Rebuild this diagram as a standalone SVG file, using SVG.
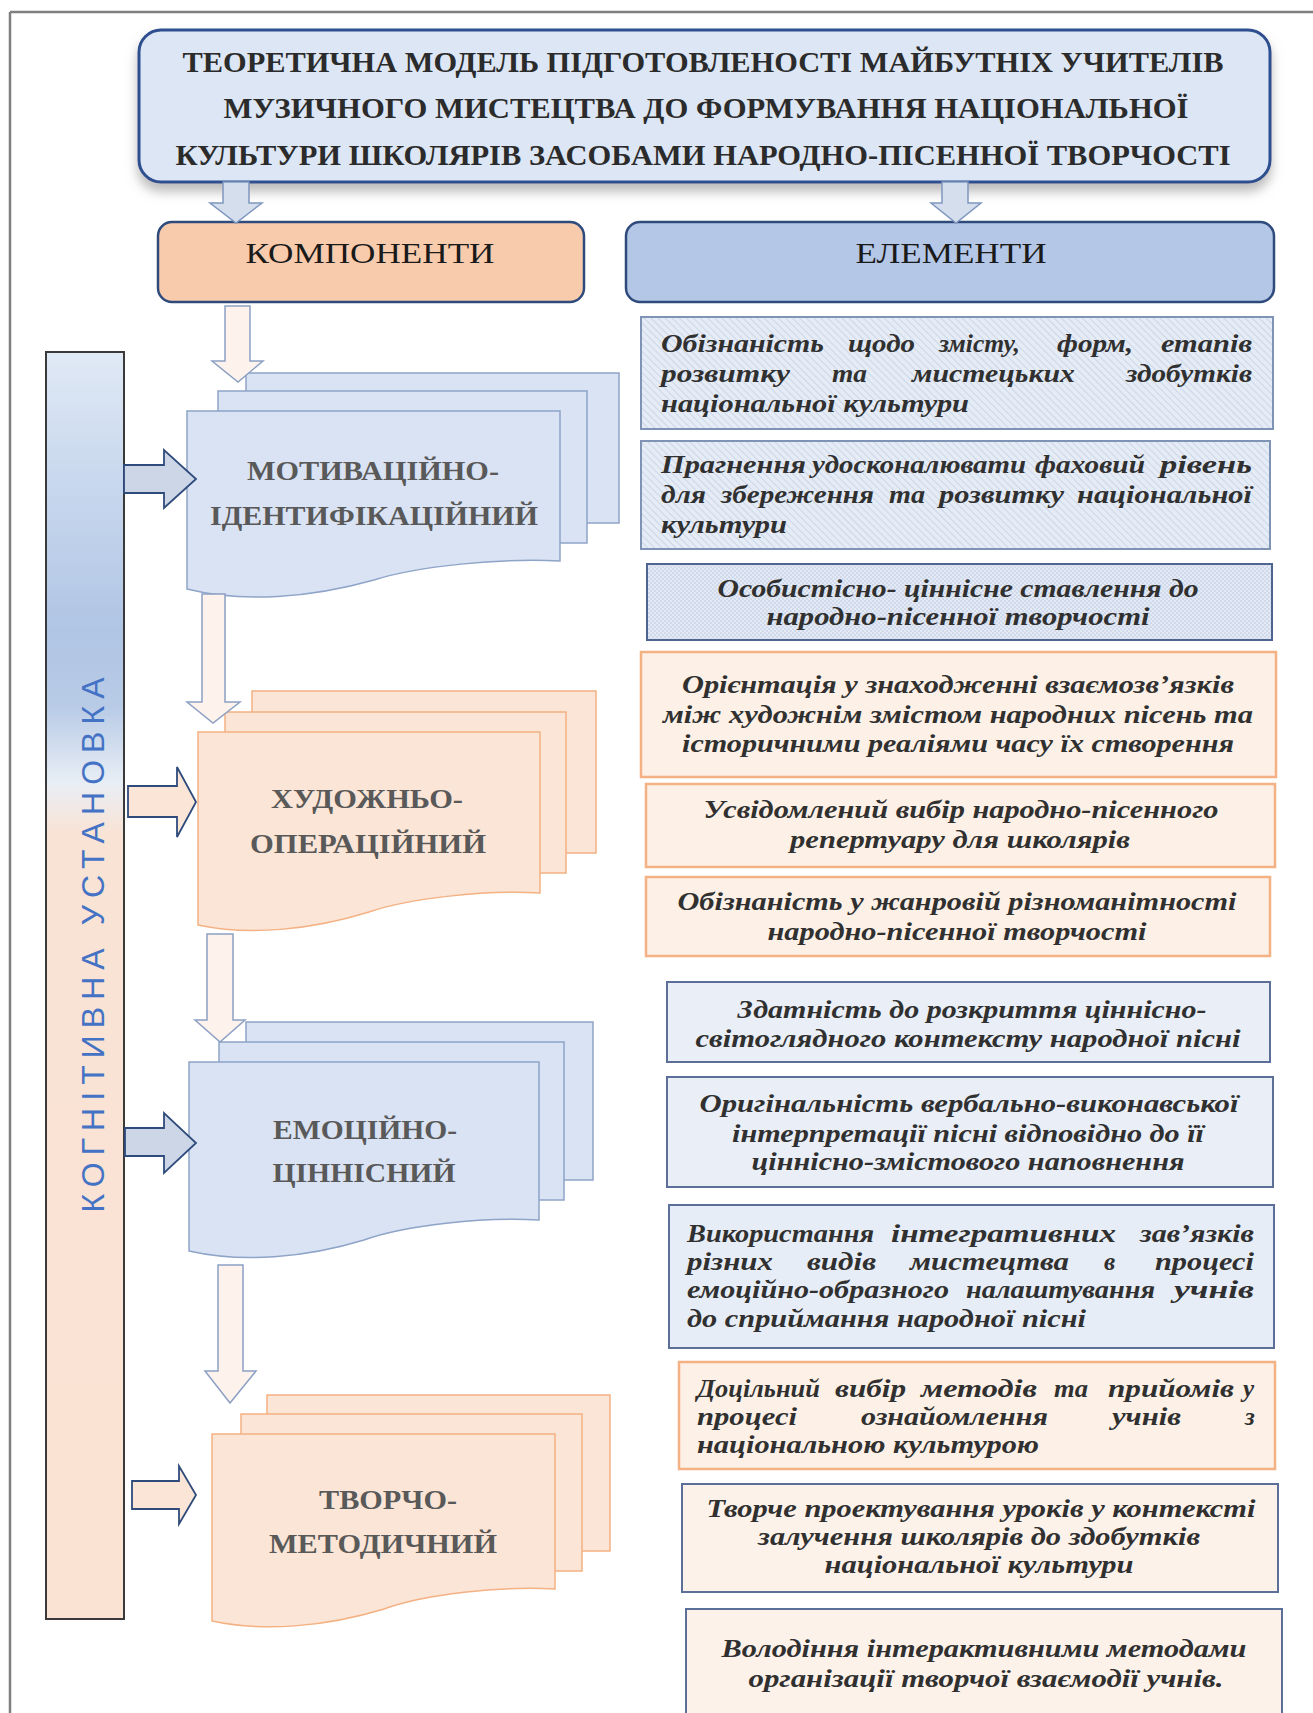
<svg xmlns="http://www.w3.org/2000/svg" width="1313" height="1713" viewBox="0 0 1313 1713">
<style>
.title{font-family:"Liberation Serif","Times New Roman",serif;font-weight:bold;font-size:30px;fill:#2b2b2b}
.head{font-family:"Liberation Serif","Times New Roman",serif;font-size:30px;fill:#1a1a1a}
.comp{font-family:"Liberation Serif","Times New Roman",serif;font-weight:bold;font-size:28px;fill:#595959}
.el{font-family:"Liberation Serif","Times New Roman",serif;font-weight:bold;font-style:italic;font-size:25px;fill:#303030}
.bar{font-family:"Liberation Sans",Arial,sans-serif;font-size:32px;fill:#4472c4}
.sheetB{fill:#dae3f3;stroke:#8ea4c8;stroke-width:1.5}
.sheetP{fill:#fbe5d6;stroke:#f4b183;stroke-width:1.5}
.boxB{stroke:#7f93b5;stroke-width:2}
.boxP{fill:#fdf0e6;stroke:#f4b183;stroke-width:2.5}
.boxPB{fill:#fdf2ea;stroke:#5b6f99;stroke-width:2}
.arrV{fill:#fdf3ec;stroke:#8ca0c4;stroke-width:1.5}
.arrT{fill:#d4deed;stroke:#7f96bf;stroke-width:1.5}
.arrHB{fill:#ccd6e6;stroke:#2f4b7c;stroke-width:1.8}
.arrHP{fill:#fbe5d6;stroke:#2f4b7c;stroke-width:1.8}
</style>
<defs>
<pattern id="hatch" patternUnits="userSpaceOnUse" width="5" height="5" patternTransform="rotate(-45)">
<rect width="5" height="5" fill="#e6ecf6"/>
<line x1="0" y1="0" x2="0" y2="5" stroke="#c3cfe2" stroke-width="1.5"/>
</pattern>
<pattern id="dots" patternUnits="userSpaceOnUse" width="4" height="4">
<rect width="4" height="4" fill="#e3eaf5"/>
<circle cx="1" cy="1" r="0.8" fill="#b8c6dc"/>
<circle cx="3" cy="3" r="0.8" fill="#b8c6dc"/>
</pattern>
<linearGradient id="barGrad" x1="0" y1="0" x2="0" y2="1">
<stop offset="0" stop-color="#e0e9f5"/>
<stop offset="0.1" stop-color="#c9d8ee"/>
<stop offset="0.22" stop-color="#b0c5e4"/>
<stop offset="0.28" stop-color="#b8cbe6"/>
<stop offset="0.34" stop-color="#e8eef5"/>
<stop offset="0.38" stop-color="#f9e3d5"/>
<stop offset="1" stop-color="#fbe3d3"/>
</linearGradient>
<filter id="shadow" x="-5%" y="-10%" width="110%" height="130%">
<feDropShadow dx="0" dy="8" stdDeviation="6" flood-color="#7f7f7f" flood-opacity="0.55"/>
</filter>
</defs>

<rect width="1313" height="1713" fill="#ffffff"/>
<g id="frame" fill="none" stroke="#7f7f7f" stroke-width="2.5">
<line x1="10" y1="12" x2="1313" y2="12"/>
<line x1="10" y1="12" x2="10" y2="1713"/>
</g>

<g id="title">
<rect x="139" y="30" width="1131" height="152" rx="22" fill="#dce6f4" stroke="#2f4f8f" stroke-width="3" filter="url(#shadow)"/>
<text class="title" x="703" y="72" text-anchor="middle" textLength="1041" lengthAdjust="spacingAndGlyphs">ТЕОРЕТИЧНА МОДЕЛЬ ПІДГОТОВЛЕНОСТІ МАЙБУТНІХ УЧИТЕЛІВ</text>
<text class="title" x="706" y="118" text-anchor="middle" textLength="965" lengthAdjust="spacingAndGlyphs">МУЗИЧНОГО МИСТЕЦТВА ДО ФОРМУВАННЯ  НАЦІОНАЛЬНОЇ</text>
<text class="title" x="703" y="165" text-anchor="middle" textLength="1055" lengthAdjust="spacingAndGlyphs">КУЛЬТУРИ ШКОЛЯРІВ ЗАСОБАМИ НАРОДНО-ПІСЕННОЇ ТВОРЧОСТІ</text>
</g>

<g id="components-header">
<rect x="158" y="222" width="426" height="80" rx="14" fill="#f8cbad" stroke="#2f4b7c" stroke-width="2.5"/>
<text class="head" x="370" y="263" text-anchor="middle" textLength="249" lengthAdjust="spacingAndGlyphs">КОМПОНЕНТИ</text>
</g>
<g id="elements-header">
<rect x="626" y="222" width="648" height="80" rx="14" fill="#b4c7e7" stroke="#2f4b7c" stroke-width="2.5"/>
<text class="head" x="951" y="263" text-anchor="middle" textLength="191" lengthAdjust="spacingAndGlyphs">ЕЛЕМЕНТИ</text>
</g>

<g id="cognitive-bar">
<rect x="46" y="352" width="78" height="1267" fill="url(#barGrad)" stroke="#3a3a3a" stroke-width="2"/>
<text class="bar" transform="translate(104,945) rotate(-90)" x="0" y="0" text-anchor="middle" textLength="535" lengthAdjust="spacing">КОГНІТИВНА УСТАНОВКА</text>
</g>

<g id="comp-motivational">
<rect class="sheetB" x="246" y="373" width="373" height="150"/>
<rect class="sheetB" x="218" y="391" width="369" height="152"/>
<path class="sheetB" d="M187,411 H560 V561 C500,558 418,566 374,580 C310,598 243,603 187,589 Z"/>
<text class="comp" x="373" y="480" text-anchor="middle" textLength="252" lengthAdjust="spacingAndGlyphs">МОТИВАЦІЙНО-</text>
<text class="comp" x="374" y="525" text-anchor="middle" textLength="328" lengthAdjust="spacingAndGlyphs">ІДЕНТИФІКАЦІЙНИЙ</text>
</g>

<g id="comp-artistic">
<rect class="sheetP" x="252" y="691" width="344" height="162"/>
<rect class="sheetP" x="225" y="712" width="341" height="161"/>
<path class="sheetP" d="M198,732 H540 V893 C485,890 410,898 369,912 C311,930 249,936 198,925 Z"/>
<text class="comp" x="367" y="808" text-anchor="middle" textLength="192" lengthAdjust="spacingAndGlyphs">ХУДОЖНЬО-</text>
<text class="comp" x="368" y="853" text-anchor="middle" textLength="236" lengthAdjust="spacingAndGlyphs">ОПЕРАЦІЙНИЙ</text>
</g>

<g id="comp-emotional">
<rect class="sheetB" x="246" y="1022" width="347" height="158"/>
<rect class="sheetB" x="219" y="1042" width="345" height="158"/>
<path class="sheetB" d="M189,1062 H539 V1220 C483,1217 406,1225 364,1240 C305,1258 242,1263 189,1251 Z"/>
<text class="comp" x="365" y="1139" text-anchor="middle" textLength="184" lengthAdjust="spacingAndGlyphs">ЕМОЦІЙНО-</text>
<text class="comp" x="364" y="1182" text-anchor="middle" textLength="183" lengthAdjust="spacingAndGlyphs">ЦІННІСНИЙ</text>
</g>

<g id="comp-creative">
<rect class="sheetP" x="267" y="1395" width="343" height="156"/>
<rect class="sheetP" x="241" y="1414" width="341" height="157"/>
<path class="sheetP" d="M212,1434 H555 V1589 C500,1586 425,1594 384,1609 C325,1627 263,1632 212,1621 Z"/>
<text class="comp" x="388" y="1509" text-anchor="middle" textLength="138" lengthAdjust="spacingAndGlyphs">ТВОРЧО-</text>
<text class="comp" x="383" y="1553" text-anchor="middle" textLength="228" lengthAdjust="spacingAndGlyphs">МЕТОДИЧНИЙ</text>
</g>

<g id="el-1">
<rect class="boxB" x="641" y="317" width="632" height="112" fill="url(#hatch)"/>
<text class="el" y="352"><tspan x="661" textLength="163" lengthAdjust="spacingAndGlyphs">Обізнаність</tspan> <tspan x="848" textLength="67" lengthAdjust="spacingAndGlyphs">щодо</tspan> <tspan x="939" textLength="81" lengthAdjust="spacingAndGlyphs">змісту,</tspan> <tspan x="1057" textLength="76" lengthAdjust="spacingAndGlyphs">форм,</tspan> <tspan x="1161" textLength="91" lengthAdjust="spacingAndGlyphs">етапів</tspan></text>
<text class="el" y="382"><tspan x="661" textLength="129" lengthAdjust="spacingAndGlyphs">розвитку</tspan> <tspan x="832" textLength="35" lengthAdjust="spacingAndGlyphs">та</tspan> <tspan x="912" textLength="163" lengthAdjust="spacingAndGlyphs">мистецьких</tspan> <tspan x="1126" textLength="126" lengthAdjust="spacingAndGlyphs">здобутків</tspan></text>
<text class="el" x="661" y="412" textLength="308" lengthAdjust="spacingAndGlyphs">національної культури</text>
</g>
<g id="el-2">
<rect class="boxB" x="641" y="441" width="629" height="108" fill="url(#hatch)"/>
<text class="el" y="473"><tspan x="661" textLength="145" lengthAdjust="spacingAndGlyphs">Прагнення</tspan> <tspan x="812" textLength="214" lengthAdjust="spacingAndGlyphs">удосконалювати</tspan> <tspan x="1035" textLength="110" lengthAdjust="spacingAndGlyphs">фаховий</tspan> <tspan x="1160" textLength="92" lengthAdjust="spacingAndGlyphs">рівень</tspan></text>
<text class="el" y="503"><tspan x="661" textLength="45" lengthAdjust="spacingAndGlyphs">для</tspan> <tspan x="721" textLength="153" lengthAdjust="spacingAndGlyphs">збереження</tspan> <tspan x="889" textLength="36" lengthAdjust="spacingAndGlyphs">та</tspan> <tspan x="939" textLength="125" lengthAdjust="spacingAndGlyphs">розвитку</tspan> <tspan x="1077" textLength="175" lengthAdjust="spacingAndGlyphs">національної</tspan></text>
<text class="el" x="661" y="533" textLength="126" lengthAdjust="spacingAndGlyphs">культури</text>
</g>
<g id="el-3">
<rect x="647" y="564" width="625" height="76" fill="url(#dots)" stroke="#4d6590" stroke-width="2"/>
<text class="el" x="958" y="597" text-anchor="middle" textLength="481" lengthAdjust="spacingAndGlyphs">Особистісно- ціннісне ставлення до</text>
<text class="el" x="958" y="625" text-anchor="middle" textLength="383" lengthAdjust="spacingAndGlyphs">народно-пісенної творчості</text>
</g>
<g id="el-4">
<rect class="boxP" x="641" y="652" width="635" height="125"/>
<text class="el" x="958" y="693" text-anchor="middle" textLength="552" lengthAdjust="spacingAndGlyphs">Орієнтація у знаходженні взаємозв’язків</text>
<text class="el" x="958" y="723" text-anchor="middle" textLength="590" lengthAdjust="spacingAndGlyphs">між художнім змістом народних пісень та</text>
<text class="el" x="958" y="752" text-anchor="middle" textLength="552" lengthAdjust="spacingAndGlyphs">історичними реаліями часу їх створення</text>
</g>
<g id="el-5">
<rect class="boxP" x="646" y="784" width="629" height="83"/>
<text class="el" x="961" y="818" text-anchor="middle" textLength="515" lengthAdjust="spacingAndGlyphs">Усвідомлений вибір народно-пісенного</text>
<text class="el" x="960" y="848" text-anchor="middle" textLength="340" lengthAdjust="spacingAndGlyphs">репертуару для школярів</text>
</g>
<g id="el-6">
<rect class="boxP" x="646" y="877" width="624" height="79"/>
<text class="el" x="957" y="910" text-anchor="middle" textLength="559" lengthAdjust="spacingAndGlyphs">Обізнаність у жанровій різноманітності</text>
<text class="el" x="957" y="940" text-anchor="middle" textLength="379" lengthAdjust="spacingAndGlyphs">народно-пісенної творчості</text>
</g>
<g id="el-7">
<rect class="boxPB" x="667" y="982" width="603" height="80" style="fill:#e9eef7"/>
<text class="el" x="972" y="1018" text-anchor="middle" textLength="469" lengthAdjust="spacingAndGlyphs">Здатність до розкриття ціннісно-</text>
<text class="el" x="968" y="1047" text-anchor="middle" textLength="545" lengthAdjust="spacingAndGlyphs">світоглядного контексту народної пісні</text>
</g>
<g id="el-8">
<rect class="boxPB" x="667" y="1077" width="606" height="110" style="fill:#e9eef7"/>
<text class="el" x="969" y="1112" text-anchor="middle" textLength="539" lengthAdjust="spacingAndGlyphs">Оригінальність вербально-виконавської</text>
<text class="el" x="968" y="1142" text-anchor="middle" textLength="472" lengthAdjust="spacingAndGlyphs">інтерпретації пісні відповідно до її</text>
<text class="el" x="968" y="1170" text-anchor="middle" textLength="433" lengthAdjust="spacingAndGlyphs">ціннісно-змістового наповнення</text>
</g>
<g id="el-9">
<rect class="boxPB" x="669" y="1205" width="605" height="143" style="fill:#e7edf6"/>
<text class="el" y="1242"><tspan x="687" textLength="187" lengthAdjust="spacingAndGlyphs">Використання</tspan> <tspan x="891" textLength="225" lengthAdjust="spacingAndGlyphs">інтегративних</tspan> <tspan x="1140" textLength="114" lengthAdjust="spacingAndGlyphs">зав’язків</tspan></text>
<text class="el" y="1270"><tspan x="687" textLength="86" lengthAdjust="spacingAndGlyphs">різних</tspan> <tspan x="807" textLength="69" lengthAdjust="spacingAndGlyphs">видів</tspan> <tspan x="910" textLength="159" lengthAdjust="spacingAndGlyphs">мистецтва</tspan> <tspan x="1104">в</tspan> <tspan x="1155" textLength="99" lengthAdjust="spacingAndGlyphs">процесі</tspan></text>
<text class="el" y="1298"><tspan x="687" textLength="262" lengthAdjust="spacingAndGlyphs">емоційно-образного</tspan> <tspan x="966" textLength="189" lengthAdjust="spacingAndGlyphs">налаштування</tspan> <tspan x="1174" textLength="80" lengthAdjust="spacingAndGlyphs">учнів</tspan></text>
<text class="el" x="687" y="1327" textLength="399" lengthAdjust="spacingAndGlyphs">до сприймання народної пісні</text>
</g>
<g id="el-10">
<rect class="boxP" x="679" y="1362" width="596" height="107"/>
<text class="el" y="1397"><tspan x="697" textLength="123" lengthAdjust="spacingAndGlyphs">Доцільний</tspan> <tspan x="835" textLength="71" lengthAdjust="spacingAndGlyphs">вибір</tspan> <tspan x="921" textLength="116" lengthAdjust="spacingAndGlyphs">методів</tspan> <tspan x="1054" textLength="34" lengthAdjust="spacingAndGlyphs">та</tspan> <tspan x="1108" textLength="126" lengthAdjust="spacingAndGlyphs">прийомів</tspan> <tspan x="1243">у</tspan></text>
<text class="el" y="1425"><tspan x="697" textLength="100" lengthAdjust="spacingAndGlyphs">процесі</tspan> <tspan x="861" textLength="187" lengthAdjust="spacingAndGlyphs">ознайомлення</tspan> <tspan x="1112" textLength="69" lengthAdjust="spacingAndGlyphs">учнів</tspan> <tspan x="1245">з</tspan></text>
<text class="el" x="697" y="1453" textLength="342" lengthAdjust="spacingAndGlyphs">національною культурою</text>
</g>
<g id="el-11">
<rect class="boxPB" x="682" y="1484" width="596" height="108"/>
<text class="el" x="981" y="1517" text-anchor="middle" textLength="549" lengthAdjust="spacingAndGlyphs">Творче проектування уроків у контексті</text>
<text class="el" x="979" y="1545" text-anchor="middle" textLength="442" lengthAdjust="spacingAndGlyphs">залучення школярів до здобутків</text>
<text class="el" x="979" y="1573" text-anchor="middle" textLength="309" lengthAdjust="spacingAndGlyphs">національної культури</text>
</g>
<g id="el-12">
<rect class="boxPB" x="686" y="1609" width="596" height="120"/>
<text class="el" x="984" y="1657" text-anchor="middle" textLength="525" lengthAdjust="spacingAndGlyphs">Володіння інтерактивними методами</text>
<text class="el" x="986" y="1687" text-anchor="middle" textLength="475" lengthAdjust="spacingAndGlyphs">організації творчої взаємодії учнів.</text>
</g>

<g id="connectors">
<polygon class="arrT" points="223,182 249,182 249,203 262,203 236,223 210,203 223,203"/>
<polygon class="arrT" points="942,182 968,182 968,203 981,203 956,223 931,203 942,203"/>
<polygon class="arrV" points="225,306 250,306 250,361 263,361 238,382 212,361 225,361"/>
<polygon class="arrV" points="202,594 225,594 225,702 240,702 213,723 187,702 202,702"/>
<polygon class="arrV" points="207,934 233,934 233,1020 245,1020 220,1042 195,1020 207,1020"/>
<polygon class="arrV" points="218,1265 243,1265 243,1371 256,1371 230,1403 205,1371 218,1371"/>
<polygon class="arrHB" points="124,465 164,465 164,450 196,479 164,508 164,493 124,493"/>
<polygon class="arrHP" points="128,786 177,786 177,767 196,802 177,837 177,817 128,817"/>
<polygon class="arrHB" points="125,1128 164,1128 164,1113 196,1143 164,1173 164,1156 125,1156"/>
<polygon class="arrHP" points="132,1481 179,1481 179,1466 196,1495 179,1524 179,1509 132,1509"/>
</g>
</svg>
